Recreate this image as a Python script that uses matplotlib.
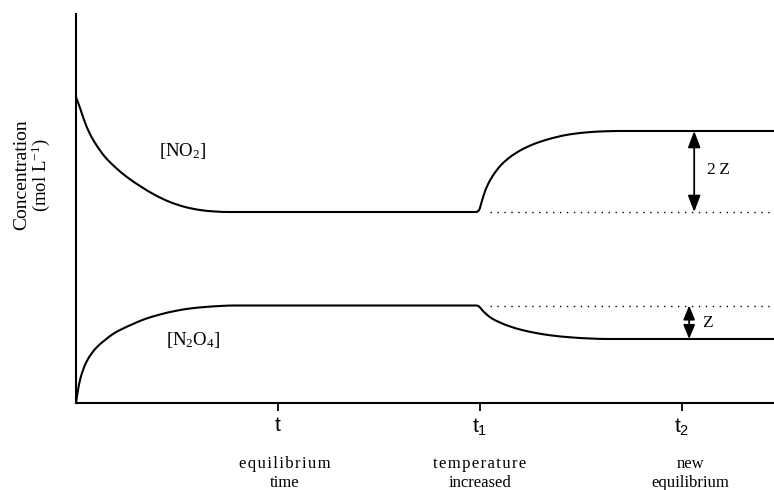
import numpy as np
import matplotlib
matplotlib.use("Agg")
import matplotlib.pyplot as plt
from matplotlib.path import Path
from matplotlib.patches import PathPatch

plt.rcParams['font.family'] = ['Liberation Serif', 'DejaVu Serif']
plt.rcParams['mathtext.fontset'] = 'custom'
plt.rcParams['mathtext.rm'] = 'Liberation Serif'
plt.rcParams['mathtext.it'] = 'Liberation Serif:italic'
plt.rcParams['mathtext.sf'] = 'Liberation Sans'

# time points (t = 1, t1 = 2, t2 = 3) and concentrations
no2_t = [0.0, 0.020, 0.040, 0.069, 0.104, 0.144, 0.193, 0.252, 0.317, 0.391,
         0.465, 0.540, 0.614, 0.688, 0.762,
         1.980, 1.995, 2.005, 2.020, 2.040, 2.069, 2.104, 2.149, 2.203, 2.267,
         2.342, 2.426, 2.520, 2.619, 2.718, 2.807, 3.455]
no2_c = [3.06, 2.95, 2.83, 2.69, 2.57, 2.46, 2.36, 2.26, 2.17, 2.08,
         2.01, 1.96, 1.93, 1.915, 1.91,
         1.91, 1.93, 1.99, 2.09, 2.19, 2.29, 2.38, 2.46, 2.53, 2.59,
         2.64, 2.68, 2.705, 2.717, 2.72, 2.72, 2.72]

n2o4_t = [0.0, 0.010, 0.020, 0.035, 0.054, 0.079, 0.109, 0.144, 0.183, 0.228,
          0.282, 0.342, 0.416, 0.490, 0.564, 0.639, 0.713, 0.787,
          1.980, 1.995, 2.010, 2.030, 2.059, 2.099, 2.149, 2.208, 2.277, 2.356,
          2.446, 2.545, 2.644, 2.743, 3.455]
n2o4_c = [0.0, 0.13, 0.23, 0.33, 0.42, 0.50, 0.57, 0.63, 0.69, 0.74,
          0.79, 0.84, 0.885, 0.92, 0.945, 0.96, 0.97, 0.975,
          0.975, 0.965, 0.93, 0.89, 0.845, 0.805, 0.765, 0.73, 0.70, 0.675,
          0.657, 0.645, 0.64, 0.64, 0.64]

no2_eq, no2_new = 1.91, 2.72
n2o4_eq, n2o4_new = 0.975, 0.64

tick_pos = [1.0, 2.0, 3.0]
tick_lbl = [r'$\mathsf{t}$', r'$\mathsf{t_1}$', r'$\mathsf{t_2}$']


def smooth_path(xs, ys, sx=202.0, sy=100.0):
    # cubic bezier through the read points, tangents from neighbours,
    # flat where a neighbouring segment is flat
    p = np.column_stack([np.asarray(xs) * sx, np.asarray(ys) * sy])
    n = len(p)
    tan = np.zeros_like(p)
    for i in range(n):
        a = p[max(i - 1, 0)]
        b = p[min(i + 1, n - 1)]
        d = b - a
        if 0 < i < n - 1:
            d1 = p[i][1] - p[i - 1][1]
            d2 = p[i + 1][1] - p[i][1]
            if d1 == 0 or d2 == 0 or d1 * d2 < 0:
                d = np.array([1.0, 0.0])
        tan[i] = d / np.hypot(*d)
    verts = [p[0]]
    codes = [Path.MOVETO]
    for i in range(n - 1):
        L = np.hypot(*(p[i + 1] - p[i])) / 3.0
        verts += [p[i] + tan[i] * L, p[i + 1] - tan[i + 1] * L, p[i + 1]]
        codes += [Path.CURVE4] * 3
    verts = np.array(verts) / [sx, sy]
    return Path(verts, codes)


HS = '\u200a'
def spaced(s):
    return HS.join(s)

fig = plt.figure(figsize=(7.74, 4.90), dpi=100)
ax = fig.add_axes([76/774, 87/490, 698/774, 389/490])

for xs, ys in [(no2_t, no2_c), (n2o4_t, n2o4_c)]:
    ax.add_patch(PathPatch(smooth_path(xs, ys), fill=False, edgecolor='black',
                           lw=1.5, capstyle='butt'))

# old equilibrium levels, dotted
ax.plot([2.05, 3.455], [no2_eq, no2_eq], color='black', lw=1.0, ls=(0, (1, 4)))
ax.plot([2.05, 3.455], [n2o4_eq, n2o4_eq], color='black', lw=1.0, ls=(0, (1, 4)))

# double arrows
ax.annotate('', xy=(3.06, no2_new), xytext=(3.06, no2_eq),
            arrowprops=dict(arrowstyle='<|-|>,head_length=1.0,head_width=0.38',
                            color='black', lw=1.3, shrinkA=0, shrinkB=0))
ax.annotate('', xy=(3.035, n2o4_eq), xytext=(3.035, n2o4_new),
            arrowprops=dict(arrowstyle='<|-|>,head_length=0.85,head_width=0.35',
                            color='black', lw=1.3, shrinkA=0, shrinkB=0))
ax.text(3.125, (no2_eq + no2_new) / 2 + 0.02, '2' + '\u2009' + 'Z', fontsize=12.5,
        ha='left', va='center')
ax.text(3.10, (n2o4_eq + n2o4_new) / 2 - 0.01, 'Z', fontsize=12.5,
        ha='left', va='center')

ax.text(0.53, 2.52, r'[NO$_2$]', fontsize=13.5, ha='center', va='center')
ax.text(0.58, 0.63, r'[N$_2$O$_4$]', fontsize=13.5, ha='center', va='center')

ax.set_xlim(0, 3.455)
ax.set_ylim(0, 3.89)
for s in ['top', 'right']:
    ax.spines[s].set_visible(False)
for s in ['left', 'bottom']:
    ax.spines[s].set_linewidth(1.5)
ax.set_yticks([])
ax.set_xticks(tick_pos)
ax.set_xticklabels(tick_lbl, fontsize=15)
ax.tick_params(axis='x', direction='out', length=6, width=1.3, pad=4)

# captions below the time axis
caps = [(1.035, spaced('equilibrium'), 'time'),
        (2.0, spaced('temperature'), 'increased'),
        (3.04, 'new', 'equilibrium')]
for x, l1, l2 in caps:
    ax.text(x, -0.61, l1, fontsize=12, ha='center', va='center', clip_on=False)
    ax.text(x, -0.80, l2, fontsize=12, ha='center', va='center', clip_on=False)

fig.text(22/774, 1 - 175/490, 'Concentration', rotation=90, fontsize=14,
         ha='center', va='center')
fig.text(41/774, 1 - 175/490, r'(mol L$^{\mathrm{-1}}$)', rotation=90, fontsize=13.5,
         ha='center', va='center')

fig.savefig('out.png', dpi=100)
